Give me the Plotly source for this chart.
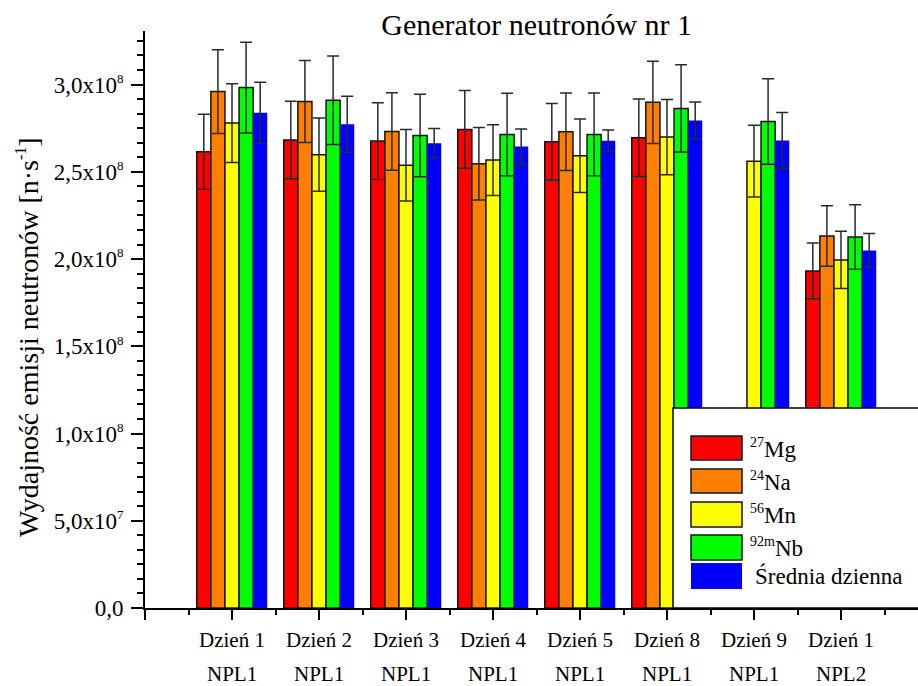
import plotly.graph_objects as go

# Neutron emission yield per measurement day, by activation isotope (n/s)
days = ["Dzień 1", "Dzień 2", "Dzień 3", "Dzień 4", "Dzień 5", "Dzień 8", "Dzień 9", "Dzień 1"]
sources = ["NPL1", "NPL1", "NPL1", "NPL1", "NPL1", "NPL1", "NPL1", "NPL2"]

mg = [2.615, 2.682, 2.676, 2.743, 2.672, 2.695, None, 1.932]
mg_err = [0.215, 0.222, 0.220, 0.223, 0.220, 0.222, None, 0.160]
na = [2.960, 2.903, 2.731, 2.546, 2.729, 2.898, None, 2.132]
na_err = [0.240, 0.235, 0.222, 0.208, 0.222, 0.236, None, 0.173]
mn = [2.779, 2.598, 2.538, 2.567, 2.592, 2.699, 2.561, 1.995]
mn_err = [0.225, 0.210, 0.205, 0.203, 0.210, 0.216, 0.206, 0.164]
nb = [2.983, 2.910, 2.708, 2.714, 2.714, 2.863, 2.788, 2.126]
nb_err = [0.260, 0.253, 0.236, 0.236, 0.237, 0.250, 0.245, 0.185]
avg = [2.838, 2.773, 2.664, 2.645, 2.678, 2.794, 2.680, 2.049]
avg_err = [0.175, 0.160, 0.084, 0.100, 0.061, 0.106, 0.160, 0.098]


def sup(txt, size):
    return f"<sup><span style='font-size:{size}px'>{txt}</span></sup>"


series_names = [sup("27", 14) + "Mg", sup("24", 14) + "Na", sup("56", 14) + "Mn",
                sup("92m", 14) + "Nb", "Średnia dzienna"]
series_colors = ["#FF0000", "#FF8000", "#FFFF00", "#00FF00", "#0000FF"]
series_values = [mg, na, mn, nb, avg]
series_errors = [mg_err, na_err, mn_err, nb_err, avg_err]

ytick_vals = [0, 0.5e8, 1.0e8, 1.5e8, 2.0e8, 2.5e8, 3.0e8]
ytick_text = ["0,0", "5,0x10" + sup("7", 13), "1,0x10" + sup("8", 13), "1,5x10" + sup("8", 13),
              "2,0x10" + sup("8", 13), "2,5x10" + sup("8", 13), "3,0x10" + sup("8", 13)]

SCALE = 1e8
FONT = "'Liberation Serif', 'Times New Roman', 'DejaVu Serif', serif"

# plot-area geometry in pixels (used for the hand-drawn legend box)
W, H = 918, 686
L, R, T, B = 145, 0, 31, 78
PW, PH = W - L - R, H - T - B


def px_x(p):
    return (p - L) / PW


def px_y(p):
    return (H - B - p) / PH


x_pos = list(range(1, len(days) + 1))

fig = go.Figure()
for name, color, vals, errs in zip(series_names, series_colors, series_values, series_errors):
    outlined = color != "#0000FF"
    fig.add_trace(go.Bar(
        x=x_pos,
        y=[v * SCALE if v is not None else None for v in vals],
        name=name,
        marker=dict(color=color,
                    line=dict(color="#141414" if outlined else color,
                              width=1.5 if outlined else 0)),
        error_y=dict(type="data", symmetric=True,
                     array=[e * SCALE if e is not None else 0 for e in errs],
                     color="#2a2a2a", thickness=1.5, width=6),
        showlegend=False,
    ))

fig.update_layout(
    width=W, height=H,
    margin=dict(l=L, r=R, t=T, b=B),
    paper_bgcolor="white", plot_bgcolor="white",
    barmode="group", bargap=0.19, bargroupgap=0,
    font=dict(family=FONT, color="black"),
    title=dict(text="Generator neutronów nr 1", font=dict(family=FONT, size=30, color="black"),
               x=536.7 / W, xanchor="center", xref="container",
               y=1 - 24 / H, yanchor="middle", yref="container"),
    xaxis=dict(range=[0, (W - L) / ((841 - 145) / 8)],
               showgrid=False, zeroline=False,
               showline=True, linecolor="black", linewidth=2,
               ticks="outside", ticklen=10, tickwidth=2, tickcolor="black",
               tickmode="array", tickvals=list(range(0, 9)), showticklabels=False,
               minor=dict(ticks="outside", ticklen=5, tickwidth=2, tickcolor="black",
                          tickmode="array", tickvals=[i + 0.5 for i in range(0, 9)])),
    yaxis=dict(range=[0, 3.307e8],
               showgrid=False, zeroline=False,
               showline=True, linecolor="black", linewidth=2,
               ticks="outside", ticklen=12, tickwidth=2, tickcolor="black",
               tickmode="array", tickvals=ytick_vals, ticktext=ytick_text,
               tickfont=dict(family=FONT, size=23, color="black"),
               ticklabelstandoff=3,
               minor=dict(ticks="outside", ticklen=6, tickwidth=2, tickcolor="black",
                          tickmode="linear", tick0=0, dtick=0.5e8 / 6)),
)

annotations = []
# two-line category labels under the x axis
for xi, d, s in zip(x_pos, days, sources):
    annotations.append(dict(x=xi, xref="x", y=0, yref="paper", text=d, showarrow=False,
                            xanchor="center", yanchor="middle", yshift=-32,
                            font=dict(family=FONT, size=21, color="black")))
    annotations.append(dict(x=xi, xref="x", y=0, yref="paper", text=s, showarrow=False,
                            xanchor="center", yanchor="middle", yshift=-66,
                            font=dict(family=FONT, size=21, color="black")))

# y-axis title
annotations.append(dict(x=px_x(28), xref="paper", y=px_y(337), yref="paper",
                        text="Wydajność emisji neutronów [n·s" + sup("-1", 16) + "]",
                        textangle=-90, showarrow=False, xanchor="center", yanchor="middle",
                        font=dict(family=FONT, size=28, color="black")))

# legend panel drawn over the lower right of the plot
shapes = [dict(type="rect", xref="paper", yref="paper",
               x0=px_x(673), x1=px_x(940), y0=px_y(608), y1=px_y(408),
               line=dict(color="black", width=1.5), fillcolor="white", layer="above")]
swatch_rows = [(436, 460), (469, 493), (502, 527), (535, 560), (563, 589)]
for (top, bot), name, color in zip(swatch_rows, series_names, series_colors):
    outlined = color != "#0000FF"
    shapes.append(dict(type="rect", xref="paper", yref="paper",
                       x0=px_x(691), x1=px_x(742), y0=px_y(bot), y1=px_y(top),
                       line=dict(color="#141414", width=1.5 if outlined else 0),
                       fillcolor=color, layer="above"))
    annotations.append(dict(x=px_x(748 if outlined else 753), xref="paper",
                            y=px_y((top + bot) / 2), yref="paper",
                            text=name, showarrow=False, xanchor="left", yanchor="middle",
                            font=dict(family=FONT, size=23, color="black")))

fig.update_layout(shapes=shapes, annotations=annotations)

fig.write_html("out.html")
